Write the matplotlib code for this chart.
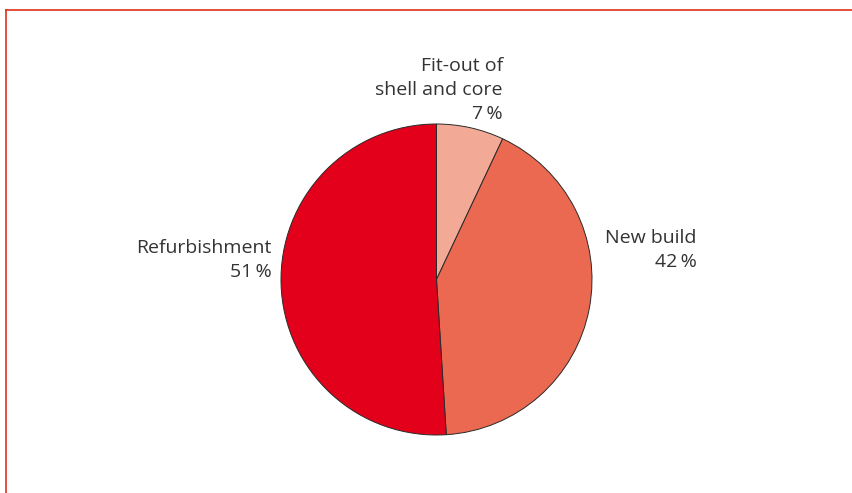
import matplotlib
matplotlib.use("Agg")
import matplotlib.pyplot as plt
from matplotlib.lines import Line2D

# Share of projects by type
categories = ["Fit-out of\nshell and core", "New build", "Refurbishment"]
shares = [7, 42, 51]
colors = ["#F2AA96", "#EB6851", "#E2001A"]

W, H = 853, 493
fig = plt.figure(figsize=(W / 100, H / 100), dpi=100)
ax = fig.add_axes([0, 0, 1, 1])

cx, cy, r = 436.5, H - 279.5, 155.5
wedges, _ = ax.pie(shares, colors=colors, startangle=90, counterclock=False,
                   center=(cx, cy), radius=r, frame=True,
                   wedgeprops=dict(edgecolor="#2a2a2a", linewidth=0.7))
ax.set_xlim(0, W)
ax.set_ylim(0, H)
ax.set_aspect("equal")
ax.axis("off")

# labels (right-aligned, placed in pixel space)
label_pos = [(503, H - 119), (697, H - 267), (272, H - 277)]
for cat, val, (x, y) in zip(categories, shares, label_pos):
    ax.text(x, y, f"{cat}\n{val}\u2009%", ha="right", va="baseline",
            fontsize=14, family=["Open Sans", "DejaVu Sans"], color="#333333",
            linespacing=1.42, multialignment="right")

# frame lines at top and left
fig.add_artist(Line2D([6.5 / W, 1], [1 - 9.5 / H, 1 - 9.5 / H],
                      transform=fig.transFigure, color="#E0301E", lw=1.2))
fig.add_artist(Line2D([6.5 / W, 6.5 / W], [0, 1 - 9.5 / H],
                      transform=fig.transFigure, color="#E0301E", lw=1.2))

fig.savefig("out.png", dpi=100)
